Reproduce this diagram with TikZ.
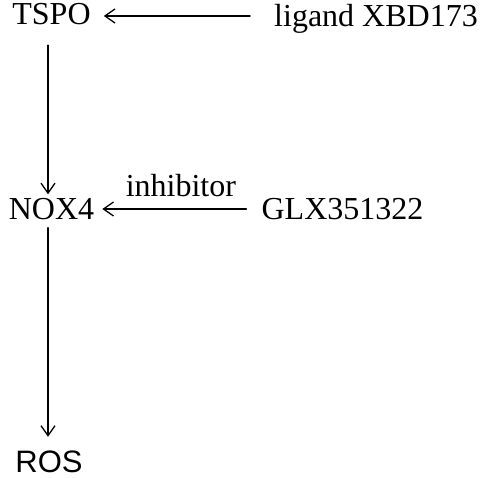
\documentclass[tikz,border=0pt]{standalone}
\usepackage{fontspec}
\setmainfont{Liberation Serif}
\newfontfamily\rosfont{Liberation Sans}
\usetikzlibrary{arrows.meta}
\tikzset{
  lbl/.style={font=\fontsize{32}{32}\selectfont, inner sep=0pt, text height=21pt, text depth=0pt},
  link/.style={-{Straight Barb[length=10pt,width=14pt]}, line width=1.3pt}
}
\begin{document}
\begin{tikzpicture}[x=1pt, y=-1pt, line join=round, line cap=round]
	% page frame
	\useasboundingbox (0,0) rectangle (484,478);
	\node[lbl] (tspo) at (51.5,14.5) {TSPO};
	\node[lbl] (lig) at (376,16) {ligand XBD173};
	\node[lbl] (nox) at (51.5,209) {NOX4};
	\node[lbl] (glx) at (342.5,209) {GLX351322};
	\node[lbl, font=\rosfont\fontsize{31}{31}\selectfont, text height=22pt] (ros) at (49,461) {ROS};
	\draw[link, shorten <=24pt, shorten >=13pt] (lig.west) -- (lig.west -| tspo.east);
	\draw[link, shorten <=15pt, shorten >=8pt] (glx.west) -- (glx.west -| nox.east)
		node[midway, above=12pt, xshift=3pt, lbl] (inh) {inhibitor};
	\draw[link, shorten <=20pt, shorten >=4pt] ([xshift=-3.5pt]tspo.south) -- ([xshift=-3.5pt]nox.north);
	\draw[link, shorten <=8pt, shorten >=13pt] ([xshift=-3.5pt]nox.south) -- ([xshift=-1pt]ros.north);
\end{tikzpicture}
\end{document}
